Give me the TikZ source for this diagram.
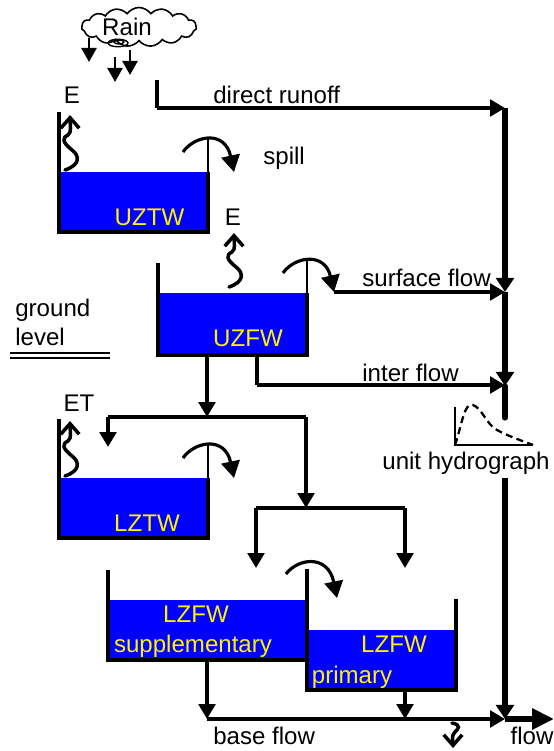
\documentclass[tikz,border=0pt]{standalone}
\usepackage{fontspec}
\setmainfont{Liberation Sans}
\usetikzlibrary{arrows.meta,shapes.symbols,shapes.geometric}
\begin{document}
\begin{tikzpicture}[
  x=0.02cm, y=-0.02cm,
  water/.style={rectangle, fill=blue, inner sep=0pt, anchor=north west},
  wall/.style={line width=1.9pt, line join=miter},
  txt/.style={font=\fontsize{13.7}{16}\selectfont, inner sep=0pt, text=black},
  tanktxt/.style={txt, text=yellow},
  flowline/.style={line width=1.9pt, -{Triangle[length=8.5pt,width=9.5pt]}},
  trunk/.style={line width=2.9pt, -{Triangle[length=8pt,width=10pt]}},
  spillarc/.style={line width=1.8pt, -{Triangle[length=9.5pt,width=10.5pt]}},
  wiggle/.style={line width=2pt, line cap=round, -{Straight Barb[length=6pt,width=10.5pt]}},
  rainarrow/.style={line width=1.7pt, -{Triangle[length=8pt,width=8.5pt]}}
]
\useasboundingbox (0,0) rectangle (554,751);

% rain
\node[cloud, cloud puffs=15, cloud puff arc=110, aspect=3, draw, line width=0.9pt, minimum width=2.3cm, minimum height=0.78cm, inner sep=0pt] (rain) at (139,27) {};
\node[txt] (raintxt) at (127,27) {Rain};
\node[ellipse, draw, line width=0.8pt, minimum width=0.4cm, minimum height=0.15cm, inner sep=0pt] (swirl) at (118,43) {};
\node[ellipse, draw, line width=0.8pt, minimum width=0.2cm, minimum height=0.08cm, inner sep=0pt] (swirlin) at (119,42) {};
\coordinate (r1a) at (89,38);  \coordinate (r1b) at (89,62);
\coordinate (r2a) at (130,50); \coordinate (r2b) at (130,75);
\coordinate (r3a) at (115,57); \coordinate (r3b) at (115,82);
\draw[rainarrow] (r1a) -- (r1b);
\draw[rainarrow] (r2a) -- (r2b);
\draw[rainarrow] (r3a) -- (r3b);

% tanks
\node[water, minimum width=2.96cm, minimum height=1.2cm] (uztw) at (59,172) {};
\node[water, minimum width=2.98cm, minimum height=1.24cm] (uzfw) at (158,293) {};
\node[water, minimum width=2.96cm, minimum height=1.2cm] (lztw) at (59,478) {};
\node[water, minimum width=3.98cm, minimum height=1.2cm] (lzfws) at (108,600) {};
\node[water, minimum width=2.98cm, minimum height=1.2cm] (lzfwp) at (307,630) {};
\draw[wall] (59,112) -- (59,232) -- (208,232) -- (208,172);
\draw[wall] (158,263) -- (158,355) -- (307,355) -- (307,293);
\draw[wall] (59,419) -- (59,538) -- (208,538) -- (208,478);
\draw[wall] (108,570) -- (108,660) -- (307,660);
\draw[wall] (307,569) -- (307,690) -- (456,690) -- (456,599);
\draw[line width=1.1pt] (208,172) -- (208,139);
\draw[line width=1.1pt] (307,293) -- (307,260);
\draw[line width=1.1pt] (208,478) -- (208,445);

\node[tanktxt] (uztwtxt) at (149.5,217) {UZTW};
\node[tanktxt] (uzfwtxt) at (248,338) {UZFW};
\node[tanktxt] (lztwtxt) at (147,523) {LZTW};
\node[tanktxt] (lzfwstxt) at (196,614) {LZFW};
\node[tanktxt] (suptxt) at (193,646) {supplementary};
\node[tanktxt] (lzfwptxt) at (394,644) {LZFW};
\node[tanktxt] (primtxt) at (352,677) {primary};

% labels
\node[txt] (e1) at (72,95) {E};
\node[txt] (e2) at (233,217) {E};
\node[txt] (et) at (79,403) {ET};
\node[txt, anchor=west] (spill) at (263,158) {spill};
\node[txt, anchor=west] (direct) at (213,95) {direct runoff};
\node[txt, anchor=west] (surface) at (362,278) {surface flow};
\node[txt, anchor=west] (inter) at (362,373) {inter flow};
\node[txt, anchor=west] (ground) at (15,310) {ground};
\node[txt, anchor=west] (level) at (15,337) {level};
\node[txt] (unit) at (466,463) {unit hydrograph};
\node[txt, anchor=west] (base) at (213,736) {base flow};
\node[txt] (flow) at (532,736) {flow};

% ground line
\coordinate (g1a) at (10,353); \coordinate (g1b) at (110,353);
\coordinate (g2a) at (10,358); \coordinate (g2b) at (110,358);
\draw[line width=1.5pt] (g1a) -- (g1b);
\draw[line width=1.5pt] (g2a) -- (g2b);

% evaporation
\coordinate (w1) at (65,170);
\coordinate (w1t) at (70,115);
\coordinate (w2) at (229,287);
\coordinate (w2t) at (234,233);
\coordinate (w3) at (65,476);
\coordinate (w3t) at (70,421);
\draw[wiggle] (w1) .. controls (80,165) and (80,156) .. (72,150) .. controls (62,142) and (62,138) .. (68,135) .. controls (72,132) and (70,125) .. (w1t);
\draw[wiggle] (w2) .. controls (244,282) and (244,273) .. (236,267) .. controls (226,259) and (226,255) .. (232,252) .. controls (236,249) and (234,242) .. (w2t);
\draw[wiggle] (w3) .. controls (80,471) and (80,462) .. (72,456) .. controls (62,448) and (62,444) .. (68,441) .. controls (72,438) and (70,431) .. (w3t);
\coordinate (w4) at (452,723);
\coordinate (w4t) at (453,748);
\draw[wiggle] (w4) .. controls (462,725) and (458,729) .. (455,732) .. controls (451,736) and (453,740) .. (w4t);

% spills
\coordinate (s1a) at (183,152); \coordinate (s1b) at (234,172);
\coordinate (s2a) at (283,273); \coordinate (s2b) at (334,292);
\coordinate (s3a) at (183,458); \coordinate (s3b) at (234,478);
\coordinate (s4a) at (286,574); \coordinate (s4b) at (337,598);
\draw[spillarc] (s1a) .. controls (195,135) and (225,130) .. (s1b);
\draw[spillarc] (s2a) .. controls (295,256) and (325,252) .. (s2b);
\draw[spillarc] (s3a) .. controls (195,441) and (225,436) .. (s3b);
\draw[spillarc] (s4a) .. controls (298,558) and (328,554) .. (s4b);

% flows to the river
\coordinate (d0) at (157,80);
\coordinate (d1) at (157,108);
\coordinate (t1) at (505,108);
\coordinate (t2) at (505,292);
\coordinate (t3) at (505,386);
\coordinate (t4) at (505,418);
\coordinate (t5) at (505,478);
\coordinate (t6) at (505,719);
\coordinate (out) at (554,719);
\draw[line width=1.9pt] (d0) -- (d1);
\draw[flowline] (d1) -- (t1);
\draw[trunk] (t1) -- (t2);
\draw[flowline] (s2b) -- (t2);
\draw[trunk] (t2) -- (t3);
\coordinate (i0) at (257,355);
\coordinate (i1) at (257,385);
\coordinate (i2) at (505,385);
\draw[line width=1.9pt] (i0) -- (i1);
\draw[flowline] (i1) -- (i2);
\draw[line width=2.9pt, line cap=round] (t3) -- (t4);
\draw[line width=3.6pt, -{Triangle[length=8pt,width=10pt]}] (t5) -- (t6);
\draw[line width=3.4pt, -{Triangle[length=12.5pt,width=11.5pt]}] (t6) -- (out);

% drains
\coordinate (j1) at (207,355);
\coordinate (j2) at (207,417);
\coordinate (j3) at (108,417);
\coordinate (j4) at (108,447);
\coordinate (j5) at (306,417);
\coordinate (j6) at (306,508);
\coordinate (j7) at (256,508);
\coordinate (j8) at (405,508);
\coordinate (j9) at (256,568);
\coordinate (j10) at (405,568);
\draw[flowline] (j1) -- (j2);
\draw[line width=1.9pt] (j3) -- (j5);
\draw[flowline] (j3) -- (j4);
\draw[flowline] (j5) -- (j6);
\draw[line width=1.9pt] (j7) -- (j8);
\draw[flowline] (j7) -- (j9);
\draw[flowline] (j8) -- (j10);

% base flow
\coordinate (b1) at (207,660);
\coordinate (b2) at (207,719);
\coordinate (b3) at (405,690);
\coordinate (b4) at (405,719);
\coordinate (b5) at (505,719);
\draw[flowline] (b1) -- (b2);
\draw[flowline] (b3) -- (b4);
\draw[flowline] (b2) -- (b5);

% hydrograph
\coordinate (h0) at (455,445);
\coordinate (h1) at (455,407);
\coordinate (h2) at (533,445);
\draw[line width=0.7pt] (h1) -- (h0) -- (h2);
\draw[line width=1.3pt, dash pattern=on 4pt off 2.5pt] (h0) .. controls (462,425) and (464,402) .. (473,405) .. controls (482,408) and (486,424) .. (497,430) .. controls (508,436) and (520,440) .. (h2);
\end{tikzpicture}
\end{document}
